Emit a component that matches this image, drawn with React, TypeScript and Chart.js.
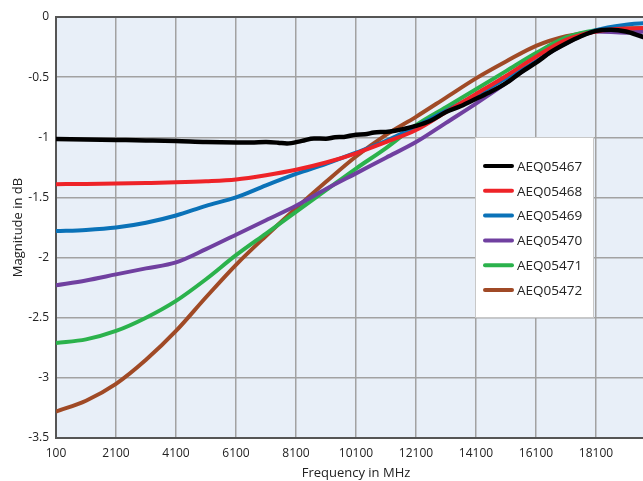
import React, { useEffect, useRef } from "react";
import { Chart, registerables } from "chart.js";

Chart.register(...registerables);

const freq = [100, 1100, 2100, 3100, 4100, 5100, 6100, 7100, 8100, 9100, 10100, 11100, 12100, 13100, 14100, 15100, 16100, 17100, 18100, 19100, 20100];
const xTicks = [100, 2100, 4100, 6100, 8100, 10100, 12100, 14100, 16100, 18100];

const blackFreq = [100, 1100, 2100, 3100, 4100, 5100, 6100, 6600, 7100, 7500, 7800, 8300, 8700, 9100, 9400, 9700, 10100, 10400, 10700, 11100, 11400, 11700, 12100, 12600, 13100, 13600, 14100, 14600, 15100, 15600, 16100, 16600, 17100, 17600, 18100, 18600, 19100, 19600, 20100];
const aeq05467 = [-1.014, -1.018, -1.022, -1.026, -1.031, -1.04, -1.043, -1.043, -1.04, -1.045, -1.052, -1.03, -1.01, -1.012, -1.0, -0.997, -0.978, -0.975, -0.96, -0.955, -0.945, -0.93, -0.905, -0.86, -0.79, -0.74, -0.68, -0.62, -0.55, -0.46, -0.38, -0.29, -0.22, -0.16, -0.115, -0.105, -0.12, -0.16, -0.2];
const aeq05468 = [-1.39, -1.388, -1.385, -1.38, -1.374, -1.365, -1.35, -1.315, -1.27, -1.21, -1.133, -1.04, -0.94, -0.79, -0.64, -0.49, -0.33, -0.19, -0.12, -0.095, -0.09];
const aeq05469 = [-1.78, -1.77, -1.75, -1.71, -1.65, -1.57, -1.5, -1.4, -1.305, -1.22, -1.128, -1.03, -0.91, -0.78, -0.65, -0.51, -0.37, -0.21, -0.11, -0.065, -0.045];
const aeq05470 = [-2.23, -2.19, -2.14, -2.09, -2.04, -1.93, -1.81, -1.69, -1.57, -1.43, -1.3, -1.17, -1.04, -0.88, -0.72, -0.55, -0.37, -0.22, -0.12, -0.13, -0.11];
const aeq05471 = [-2.71, -2.68, -2.61, -2.5, -2.36, -2.18, -1.98, -1.8, -1.62, -1.44, -1.26, -1.09, -0.9, -0.75, -0.6, -0.45, -0.3, -0.17, -0.11, -0.095, -0.09];
const aeq05472 = [-3.28, -3.19, -3.05, -2.85, -2.61, -2.33, -2.06, -1.82, -1.59, -1.37, -1.16, -0.98, -0.83, -0.67, -0.51, -0.37, -0.24, -0.16, -0.12, -0.1, -0.1];

const labels = ["AEQ05467", "AEQ05468", "AEQ05469", "AEQ05470", "AEQ05471", "AEQ05472"];
const colors = ["#000000", "#EE2328", "#0A72B8", "#7040A0", "#2BB24C", "#A04A26"];

const FONT = "'Open Sans', 'Noto Sans', sans-serif";

const pts = (xs: number[], ys: number[]) => xs.map((x, i) => ({ x, y: ys[i] }));

const bgPlugin = {
  id: "plotBg",
  beforeDraw(chart: any) {
    const { ctx, chartArea: a } = chart;
    ctx.save();
    ctx.fillStyle = "#E8EFF8";
    ctx.fillRect(a.left, a.top, a.right - a.left, a.bottom - a.top);
    ctx.restore();
  },
  afterDraw(chart: any) {
    const { ctx, chartArea: a } = chart;
    ctx.save();
    ctx.strokeStyle = "#555555";
    ctx.lineWidth = 2;
    ctx.beginPath();
    ctx.moveTo(a.left - 1, a.top);
    ctx.lineTo(a.right, a.top);
    ctx.stroke();
    // legend box
    const bx = 475, by = 137, bw = 119, bh = 181;
    ctx.fillStyle = "#FFFFFF";
    ctx.fillRect(bx, by, bw, bh);
    ctx.strokeStyle = "#C8C8C8";
    ctx.lineWidth = 1;
    ctx.strokeRect(bx + 0.5, by + 0.5, bw - 1, bh - 1);
    ctx.font = `13.5px ${FONT}`;
    ctx.textBaseline = "middle";
    ctx.textAlign = "left";
    chart.data.datasets.forEach((ds: any, i: number) => {
      const y = 166 + i * 24.8;
      ctx.strokeStyle = ds.borderColor;
      ctx.lineWidth = 4;
      ctx.lineCap = "round";
      ctx.beginPath();
      ctx.moveTo(485, y);
      ctx.lineTo(512, y);
      ctx.stroke();
      ctx.fillStyle = "#222222";
      ctx.fillText(ds.label, 517, y + 1);
    });
    ctx.restore();
  },
};

export default function App() {
  const ref = useRef<HTMLCanvasElement | null>(null);
  useEffect(() => {
    if (!ref.current) return;
    const series = [aeq05467, aeq05468, aeq05469, aeq05470, aeq05471, aeq05472];
    const chart = new Chart(ref.current, {
      type: "line",
      data: {
        datasets: series.map((ys, i) => ({
          label: labels[i],
          data: pts(i === 0 ? blackFreq : freq, ys),
          borderColor: colors[i],
          backgroundColor: colors[i],
          borderWidth: i === 0 ? 4.5 : 4,
          pointRadius: 0,
          cubicInterpolationMode: "monotone" as const,
          fill: false,
        })),
      },
      options: {
        responsive: false,
        animation: false,
        layout: { padding: { top: 17, right: 4, left: 0, bottom: 0 } },
        plugins: { legend: { display: false }, tooltip: { enabled: false } },
        scales: {
          x: {
            type: "linear",
            min: 100,
            max: 20100,
            afterBuildTicks: (axis: any) => {
              axis.ticks = xTicks.map((v) => ({ value: v }));
            },
            afterFit: (scale: any) => {
              scale.height = 43;
            },
            grid: { color: "#A2A2A2", lineWidth: 1.5, drawTicks: false },
            border: { color: "#555555", width: 2 },
            ticks: {
              padding: 8,
              color: "#222222",
              font: { family: FONT, size: 12 },
              callback: (v: any) => String(v),
              maxRotation: 0,
            },
            title: {
              display: true,
              text: "Frequency in MHz",
              color: "#222222",
              font: { family: FONT, size: 13 },
              padding: { top: 3, bottom: 0 },
            },
          },
          y: {
            min: -3.5,
            max: 0,
            afterFit: (scale: any) => {
              scale.width = 56;
            },
            grid: { color: "#A2A2A2", lineWidth: 1.5, drawTicks: false },
            border: { color: "#555555", width: 2 },
            ticks: {
              stepSize: 0.5,
              padding: 7,
              color: "#222222",
              font: { family: FONT, size: 12 },
              callback: (v: any) => String(v),
            },
            title: {
              display: true,
              text: "Magnitude in dB",
              color: "#222222",
              font: { family: FONT, size: 13 },
              padding: { top: 10, bottom: 0 },
            },
          },
        },
      },
      plugins: [bgPlugin],
    });
    return () => chart.destroy();
  }, []);
  return (
    <div style={{ position: "fixed", left: 0, top: 0, width: 643, height: 481, overflow: "hidden", background: "#fff" }}>
      <canvas ref={ref} width={660} height={481} style={{ display: "block", width: 660, height: 481 }} />
    </div>
  );
}
